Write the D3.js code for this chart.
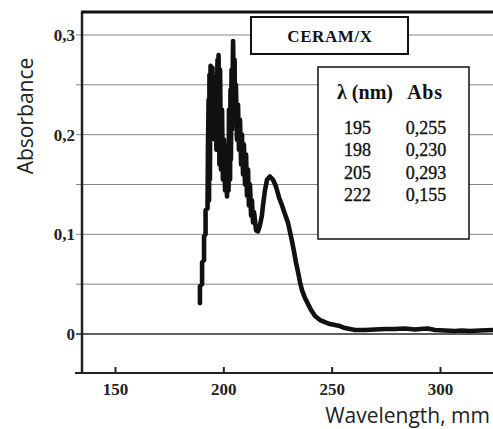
<!DOCTYPE html>
<html><head><meta charset="utf-8">
<script src="https://cdn.jsdelivr.net/npm/d3@7"></script>
<style>html,body{margin:0;padding:0;background:#fff;}</style>
</head><body>
<svg id="c" width="493" height="429"></svg>
<script>
// ---- data ----
const wavelengths = [189.2,189.2,190.2,190.2,191.1,191.1,191.8,191.8,192.7,192.9,193.2,193.4,193.6,193.8,194.1,194.3,194.5,194.8,195.0,195.2,195.5,195.7,195.9,196.2,196.6,196.8,197.3,197.5,197.8,198.2,198.5,198.9,199.4,199.8,200.3,200.8,201.2,201.7,202.2,202.4,202.6,203.1,203.3,203.5,203.8,204.0,204.5,204.9,205.2,205.4,205.8,206.3,206.8,207.2,207.7,208.2,208.6,209.1,209.5,210.0,210.5,210.9,211.4,211.8,212.3,212.8,213.2,213.7,214.2,215.1,216.0,216.9,217.8,218.3,219.2,220.2,221.5,222.9,224.3,225.7,227.1,228.5,229.8,230.8,231.7,232.6,233.5,234.5,235.4,236.3,237.7,239.1,240.5,242.3,244.6,246.9,249.2,251.5,253.8,256.1,258.5,260.8,265.4,270.0,274.6,279.2,283.8,288.5,290.8,294.4,297.7,302.3,306.9,310.1,313.8,318.4,324.4];
const absorbance = [0.031,0.048,0.050,0.072,0.074,0.098,0.100,0.124,0.126,0.185,0.235,0.134,0.260,0.155,0.269,0.195,0.265,0.205,0.267,0.200,0.255,0.210,0.258,0.195,0.250,0.185,0.275,0.185,0.280,0.170,0.265,0.165,0.225,0.155,0.195,0.144,0.170,0.138,0.185,0.144,0.225,0.155,0.245,0.175,0.265,0.205,0.294,0.235,0.275,0.215,0.250,0.195,0.230,0.185,0.215,0.170,0.200,0.160,0.190,0.150,0.180,0.139,0.165,0.129,0.150,0.119,0.134,0.112,0.122,0.104,0.103,0.109,0.119,0.129,0.144,0.155,0.158,0.155,0.148,0.137,0.129,0.120,0.112,0.102,0.093,0.083,0.072,0.062,0.052,0.044,0.036,0.030,0.024,0.018,0.014,0.012,0.010,0.009,0.008,0.006,0.005,0.004,0.004,0.0045,0.005,0.005,0.0055,0.0045,0.005,0.0055,0.004,0.0035,0.003,0.0035,0.003,0.0035,0.004];
const xTicks = [150,200,250,300];
const yTicks = [0,0.1,0.2,0.3];
const yGrid = [-0.05,0,0.05,0.1,0.15,0.2,0.25,0.3];
const title = "CERAM/X";
const peakWl = [195,198,205,222];
const peakAbs = [0.255,0.230,0.293,0.155];

// ---- layout ----
const L = 82, R = 495, T = 12, B = 373;
const x = d3.scaleLinear().domain([150,300]).range([115,440]);
const y = d3.scaleLinear().domain([0,0.3]).range([334,35]);
const svg = d3.select("#c");
const comma = v => String(v).replace(".", ",");

svg.append("defs").append("clipPath").attr("id","clip")
  .append("rect").attr("x",L).attr("y",T).attr("width",R-L).attr("height",B-T);

// grid
svg.append("g").selectAll("line").data(yGrid.filter(v => y(v) < B-2)).join("line")
  .attr("x1",76).attr("x2",R)
  .attr("y1",d=>y(d)).attr("y2",d=>y(d))
  .attr("stroke",d=> d===0 ? "#2a2a2a" : "#858585")
  .attr("stroke-width",d=> d===0 ? 1.6 : 1);

// y axis labels
const ya = svg.append("g").attr("transform",`translate(${L},0)`)
  .call(d3.axisLeft(y).tickValues(yTicks).tickFormat(d=>comma(d)).tickSize(0).tickPadding(7));
ya.select(".domain").remove();
ya.selectAll("text").attr("font-family","Liberation Serif").attr("font-weight","bold")
  .attr("font-size",17).attr("fill","#222");

// x axis
const xa = svg.append("g").attr("transform",`translate(0,${B})`)
  .call(d3.axisBottom(x).tickValues(xTicks).tickSizeInner(-6).tickSizeOuter(0).tickPadding(10));
xa.select(".domain").remove();
xa.selectAll("line").attr("stroke","#222").attr("stroke-width",2);
xa.selectAll("text").attr("font-family","Liberation Serif").attr("font-weight","bold")
  .attr("font-size",17).attr("fill","#222");

// frame
svg.append("line").attr("x1",75).attr("x2",R).attr("y1",B).attr("y2",B).attr("stroke","#222").attr("stroke-width",2);
svg.append("line").attr("x1",L).attr("x2",L).attr("y1",T).attr("y2",B).attr("stroke","#222").attr("stroke-width",2.5);
svg.append("line").attr("x1",L-1).attr("x2",R).attr("y1",T).attr("y2",T).attr("stroke","#111").attr("stroke-width",3);

// curve
const pts = wavelengths.map((w,i)=>[w,absorbance[i]]);
svg.append("path").datum(pts).attr("clip-path","url(#clip)")
  .attr("d", d3.line().x(d=>x(d[0])).y(d=>y(d[1])))
  .attr("fill","none").attr("stroke","#111").attr("stroke-width",4.6)
  .attr("stroke-linejoin","round").attr("stroke-linecap","round");

// title box
svg.append("rect").attr("x",251).attr("y",17).attr("width",157).attr("height",37)
  .attr("fill","#fff").attr("stroke","#111").attr("stroke-width",2);
svg.append("text").attr("x",330).attr("y",42).attr("text-anchor","middle")
  .attr("font-family","Liberation Serif").attr("font-weight","bold").attr("font-size",17)
  .attr("letter-spacing",0.6).attr("fill","#111").text(title);

// table box
svg.append("rect").attr("x",318).attr("y",67).attr("width",151).attr("height",172)
  .attr("fill","#fff").attr("stroke","#111").attr("stroke-width",1.5);
const hdr = svg.append("g").attr("font-family","Liberation Serif").attr("font-weight","bold")
  .attr("font-size",20).attr("fill","#111");
hdr.append("text").attr("x",365).attr("y",99).attr("text-anchor","middle").text("λ (nm)");
hdr.append("text").attr("x",425).attr("y",99).attr("text-anchor","middle").attr("letter-spacing",0.8).text("Abs");
const rows = svg.append("g").attr("font-family","Liberation Serif").attr("font-size",18)
  .attr("fill","#111").attr("stroke","#111").attr("stroke-width",0.35);
rows.selectAll("text.w").data(peakWl).join("text").attr("class","w")
  .attr("x",357.5).attr("y",(d,i)=>134+i*22.4).attr("text-anchor","middle").text(d=>d);
rows.selectAll("text.a").data(peakAbs).join("text").attr("class","a")
  .attr("x",426).attr("y",(d,i)=>134+i*22.4).attr("text-anchor","middle").text(d=>comma(d3.format(".3f")(d)));

// axis titles
svg.append("text").attr("transform","translate(33,116) rotate(-90)").attr("text-anchor","middle")
  .attr("font-family","Open Sans").attr("font-size",21).attr("fill","#222").text("Absorbance");
svg.append("text").attr("x",490).attr("y",423).attr("text-anchor","end")
  .attr("font-family","Open Sans").attr("font-size",21).attr("fill","#222").text("Wavelength, mm");
</script>
</body></html>
